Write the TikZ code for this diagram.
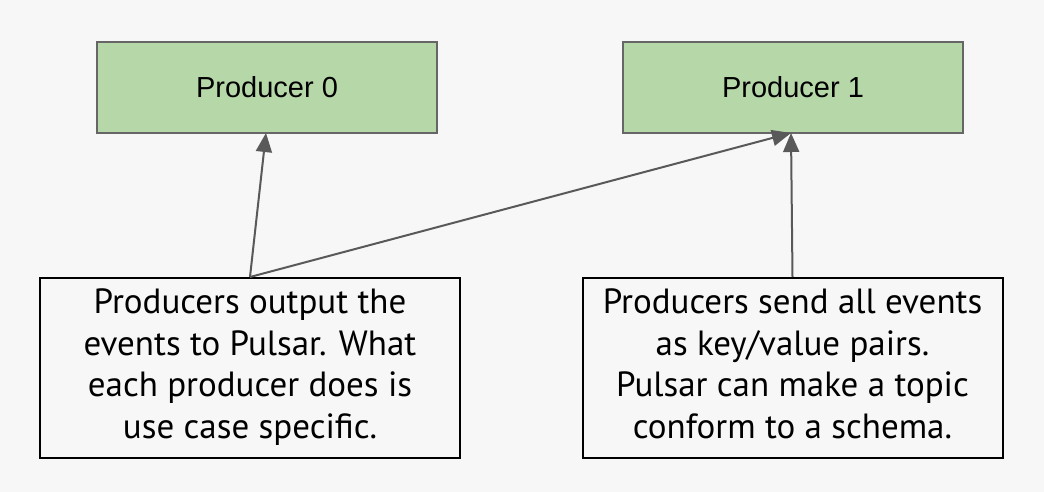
\documentclass[tikz,border=0pt]{standalone}
\usepackage{fontspec}
\setmainfont{Liberation Sans}
\newfontfamily\boxfont{PT Sans}
\usetikzlibrary{arrows.meta}
\definecolor{bgc}{HTML}{F7F7F7}
\definecolor{prodfill}{HTML}{B6D7A8}
\definecolor{prodline}{HTML}{666666}
\definecolor{arrc}{HTML}{595959}
\tikzset{
  prod/.style={draw=prodline, fill=prodfill, line width=1.5pt, minimum width=340pt, minimum height=91pt, inner sep=0pt, font=\fontsize{29}{34}\selectfont},
  note/.style={draw=black, fill=bgc, line width=2pt, minimum width=420pt, minimum height=180pt, inner sep=0pt, align=center, text height=160pt, text depth=20pt, font=\boxfont\fontsize{35}{41.5}\selectfont},
  conn/.style={draw=arrc, line width=2pt, -{Triangle[length=19pt,width=16pt]}, shorten >=0pt}
}
\begin{document}
\begin{tikzpicture}[x=1pt,y=-1pt]
\fill[bgc] (0,0) rectangle (1044,492);
\useasboundingbox (0,0) rectangle (1044,492);
\node[prod] (p0) at (267,87.5) {Producer 0};
\node[prod] (p1) at (793,87.5) {Producer 1};
\node[note] (n0) at (250,368) {Producers output the\\events to Pulsar. What\\each producer does is\\use case specific.};
\node[note] (n1) at (792.5,368) {Producers send all events\\as key/value pairs.\\Pulsar can make a topic\\conform to a schema.};
\coordinate (t0) at (266,133);
\coordinate (t1) at (791,133);
\draw[conn] (n0.north) -- (t0);
\draw[conn] (n0.north) -- (t1);
\draw[conn] (n1.north) -- (t1);
\end{tikzpicture}
\end{document}
